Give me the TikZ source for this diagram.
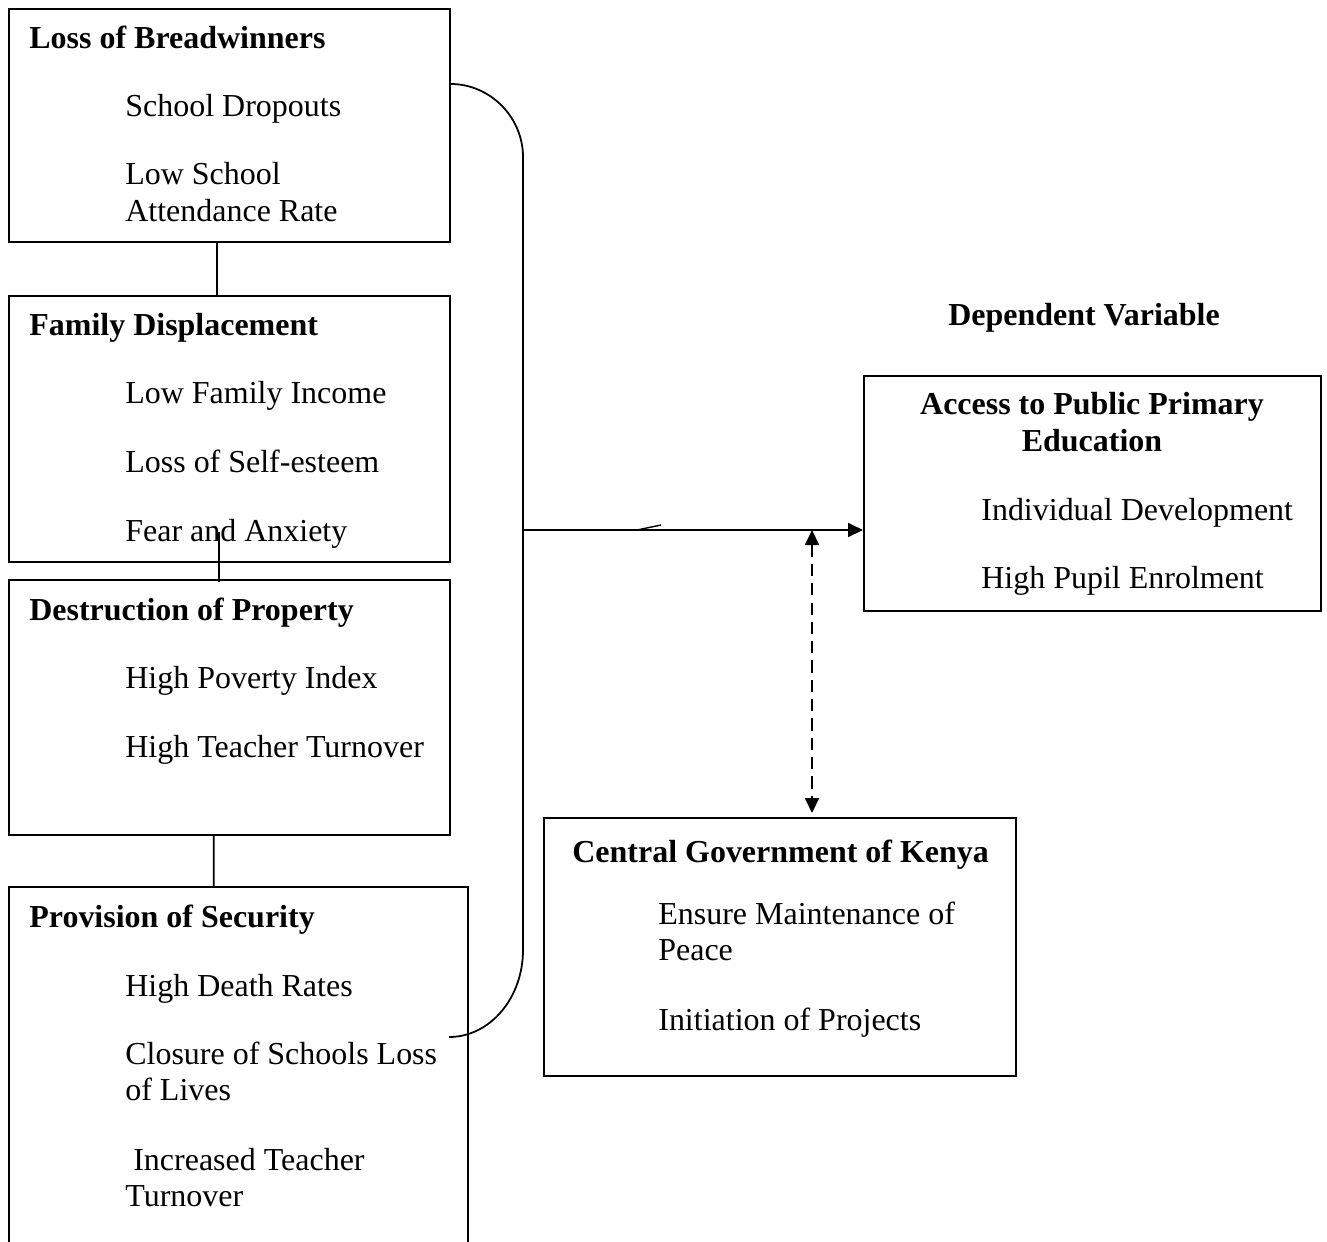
\documentclass[tikz,border=0pt]{standalone}
\usepackage{fontspec}
\setmainfont{Liberation Serif}
\usetikzlibrary{arrows.meta,calc}

\begin{document}
\begin{tikzpicture}[x=0.02cm, y=-0.02cm,
    box/.style={draw, line width=1pt, anchor=north west, inner sep=0pt},
    txt/.style={anchor=base west, inner sep=0pt, align=left, font=\fontsize{18.2}{20.5}\selectfont},
    hd/.style={txt, font=\fontsize{18.2}{20.5}\selectfont\bfseries},
    link/.style={line width=1pt},
    tip/.style={-{Triangle[length=0.3cm, width=0.28cm]}, line width=1.1pt}]
    \useasboundingbox (0,0) rectangle (1327,1241);

    \node[box, minimum width=8.82cm, minimum height=4.66cm] (loss) at (8,8) {};
    \node[box, minimum width=8.82cm, minimum height=5.32cm] (family) at (8,295) {};
    \node[box, minimum width=8.82cm, minimum height=5.10cm] (destr) at (8,579) {};
    \node[box, minimum width=9.18cm, minimum height=7.40cm] (secur) at (8,886) {};
    \node[box, minimum width=9.14cm, minimum height=4.70cm] (access) at (863,375) {};
    \node[box, minimum width=9.44cm, minimum height=5.16cm] (govt) at (543,817) {};

    \node[hd] (lossT) at (29,48) {Loss of Breadwinners};
    \node[txt] (loss1) at (125,116) {School Dropouts};
    \node[txt] (loss2) at (125,221) {Low School\\Attendance Rate};

    \node[hd] (familyT) at (29,335) {Family Displacement};
    \node[txt] (family1) at (125,403) {Low Family Income};
    \node[txt] (family2) at (125,472) {Loss of Self-esteem};
    \node[txt] (family3) at (125,541) {Fear and Anxiety};

    \node[hd] (destrT) at (29,620) {Destruction of Property};
    \node[txt] (destr1) at (125,688) {High Poverty Index};
    \node[txt] (destr2) at (125,757) {High Teacher Turnover};

    \node[hd] (securT) at (29,927) {Provision of Security};
    \node[txt] (secur1) at (125,996) {High Death Rates};
    \node[txt] (secur2) at (125,1100) {Closure of Schools Loss\\of Lives};
    \node[txt] (secur3) at (125,1206) {\hspace*{0.25em}Increased Teacher\\Turnover};

    \node[hd, anchor=base] (depT) at (1084,325) {Dependent Variable};
    \node[hd, anchor=base, align=center] (accessT) at (1092,451) {Access to Public Primary\\Education};
    \node[txt] (access1) at (981,520) {Individual Development};
    \node[txt] (access2) at (981,588) {High Pupil Enrolment};

    \node[hd] (govtT) at (572,862) {Central Government of Kenya};
    \node[txt] (govt1) at (658,960) {Ensure Maintenance of\\Peace};
    \node[txt] (govt2) at (658,1030) {Initiation of Projects};

    \coordinate (bt) at ([yshift=-1.52cm]loss.north east);
    \coordinate (bb) at (449,1037);
    \coordinate (jn) at (523,530);
    \coordinate (dt) at (812,530);

    \draw[link] ([xshift=-0.25cm]loss.south) -- ([xshift=-0.25cm]family.north);
    \draw[link] ([xshift=-0.21cm,yshift=0.62cm]family.south) -- ([xshift=-0.21cm,yshift=-0.06cm]destr.north);
    \draw[link] ([xshift=-0.31cm]destr.south) -- ([xshift=-0.49cm]secur.north);

    \draw[link] (bt) .. controls (490,84) and (523,117) .. (523,157) -- (523,950) .. controls (523,998) and (490,1037) .. (bb);
    \draw[tip] (jn) -- (jn -| access.west);
    \draw[line width=0.8pt] (637,530) -- (661,525);
    \draw[{Triangle[length=0.3cm, width=0.28cm]}-{Triangle[length=0.3cm, width=0.28cm]}, line width=1.1pt, dash pattern=on 7pt off 4pt, shorten >=0.08cm] (dt) -- (dt |- govt.north);
\end{tikzpicture}
\end{document}
